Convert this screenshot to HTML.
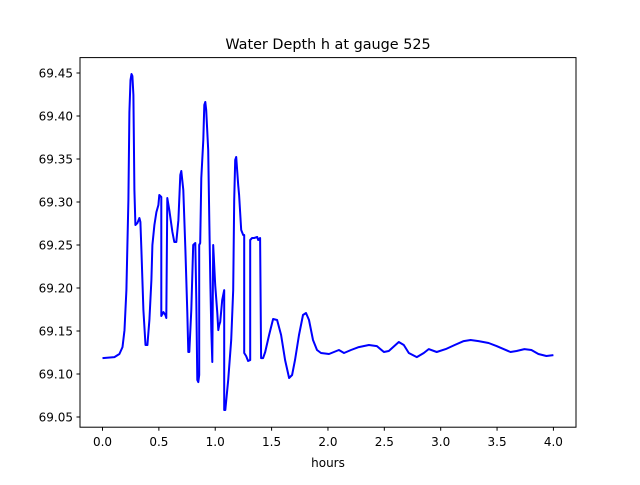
<!DOCTYPE html>
<html><head><meta charset="utf-8"><style>
body{margin:0;background:#fff}
svg text{font-family:"DejaVu Sans","Liberation Sans",sans-serif;fill:#000}
</style></head><body>
<svg id="chart" width="640" height="480" xmlns="http://www.w3.org/2000/svg">
<rect width="640" height="480" fill="#fff"/>
<text x="328" y="49" font-size="14.4" text-anchor="middle">Water Depth h at gauge 525</text>
<g id="ticks"></g>
<polyline id="series" fill="none" stroke="#0000ff" stroke-width="2" stroke-linejoin="round"/>
<rect x="80" y="57.6" width="496" height="369.6" fill="none" stroke="#000" stroke-width="1"/>
<text x="328" y="467" font-size="12" text-anchor="middle">hours</text>
</svg>
<script>
const hours=[0,0.106,0.150,0.177,0.195,0.212,0.221,0.230,0.239,0.248,0.257,0.265,0.274,0.283,0.292,0.310,0.327,0.336,0.345,0.363,0.381,0.398,0.416,0.434,0.443,0.460,0.478,0.496,0.504,0.522,0.522,0.540,0.558,0.566,0.575,0.593,0.620,0.637,0.655,0.673,0.690,0.699,0.717,0.735,0.752,0.761,0.770,0.788,0.805,0.823,0.832,0.841,0.850,0.858,0.858,0.867,0.876,0.894,0.903,0.912,0.920,0.938,0.947,0.956,0.965,0.974,0.982,1.000,1.018,1.027,1.035,1.044,1.062,1.080,1.080,1.089,1.115,1.142,1.159,1.168,1.177,1.186,1.204,1.212,1.230,1.248,1.257,1.257,1.274,1.292,1.310,1.310,1.327,1.345,1.372,1.381,1.398,1.407,1.425,1.443,1.478,1.513,1.549,1.584,1.620,1.655,1.682,1.708,1.743,1.779,1.805,1.832,1.867,1.903,1.938,2.009,2.097,2.142,2.204,2.274,2.363,2.434,2.496,2.540,2.628,2.673,2.717,2.788,2.850,2.894,2.965,3.044,3.124,3.204,3.265,3.336,3.425,3.496,3.558,3.619,3.673,3.743,3.805,3.867,3.938,4.0];
const depth=[69.1185,69.1197,69.1232,69.1313,69.1511,69.1976,69.2500,69.3023,69.4046,69.4419,69.4488,69.4465,69.4244,69.3139,69.2732,69.2756,69.2814,69.2767,69.2442,69.1744,69.1337,69.1337,69.1628,69.2093,69.2500,69.2732,69.2883,69.2965,69.3081,69.3058,69.1674,69.1720,69.1686,69.1651,69.3046,69.2907,69.2651,69.2535,69.2535,69.2790,69.3314,69.3360,69.3139,69.2442,69.1720,69.1256,69.1256,69.1744,69.2500,69.2523,69.1860,69.0930,69.0906,69.0988,69.2500,69.2523,69.3279,69.3721,69.4128,69.4163,69.4070,69.3605,69.2790,69.2093,69.1511,69.1139,69.2500,69.2035,69.1709,69.1511,69.1569,69.1604,69.1860,69.1976,69.0581,69.0581,69.0930,69.1395,69.1976,69.3023,69.3488,69.3523,69.3197,69.3081,69.2674,69.2616,69.2616,69.1244,69.1209,69.1151,69.1162,69.2558,69.2581,69.2581,69.2593,69.2558,69.2581,69.1185,69.1185,69.1256,69.1453,69.1639,69.1628,69.1453,69.1162,69.0953,69.0988,69.1162,69.1453,69.1686,69.1709,69.1628,69.1395,69.1279,69.1244,69.1232,69.1279,69.1244,69.1279,69.1313,69.1337,69.1325,69.1256,69.1267,69.1372,69.1337,69.1244,69.1197,69.1244,69.1290,69.1256,69.1290,69.1337,69.1383,69.1395,69.1383,69.1360,69.1325,69.1290,69.1256,69.1267,69.1290,69.1279,69.1232,69.1209,69.1220];
const xTicks=[0,0.5,1.0,1.5,2.0,2.5,3.0,3.5,4.0];
const yTicks=[69.05,69.10,69.15,69.20,69.25,69.30,69.35,69.40,69.45];
const xs=t=>102.5+t*112.73;
const ys=v=>417-(v-69.05)*860;
const pl=document.getElementById('series');
pl.setAttribute('points',hours.map((t,i)=>xs(t).toFixed(1)+','+ys(depth[i]).toFixed(1)).join(' '));
const g=document.getElementById('ticks');
const NS='http://www.w3.org/2000/svg';
xTicks.forEach(t=>{
 const l=document.createElementNS(NS,'line');
 
 
 l.setAttribute('x1',xs(t));l.setAttribute('x2',xs(t));l.setAttribute('y1',427.2);l.setAttribute('y2',430.7);l.setAttribute('stroke','#000');
 g.appendChild(l);
 const tx=document.createElementNS(NS,'text');
 
 
 tx.setAttribute('x',xs(t));tx.setAttribute('y',446);tx.setAttribute('font-size','12');tx.setAttribute('text-anchor','middle');
 tx.textContent=t.toFixed(1);g.appendChild(tx);
});
yTicks.forEach(v=>{
 const l=document.createElementNS(NS,'line');
 
 
 l.setAttribute('x1',76.5);l.setAttribute('x2',80);l.setAttribute('y1',ys(v));l.setAttribute('y2',ys(v));l.setAttribute('stroke','#000');
 g.appendChild(l);
 const tx=document.createElementNS(NS,'text');
 
 
 tx.setAttribute('x',73);tx.setAttribute('y',ys(v)+4.5);tx.setAttribute('font-size','12');tx.setAttribute('text-anchor','end');
 tx.textContent=v.toFixed(2);g.appendChild(tx);
});
</script>
</body></html>
